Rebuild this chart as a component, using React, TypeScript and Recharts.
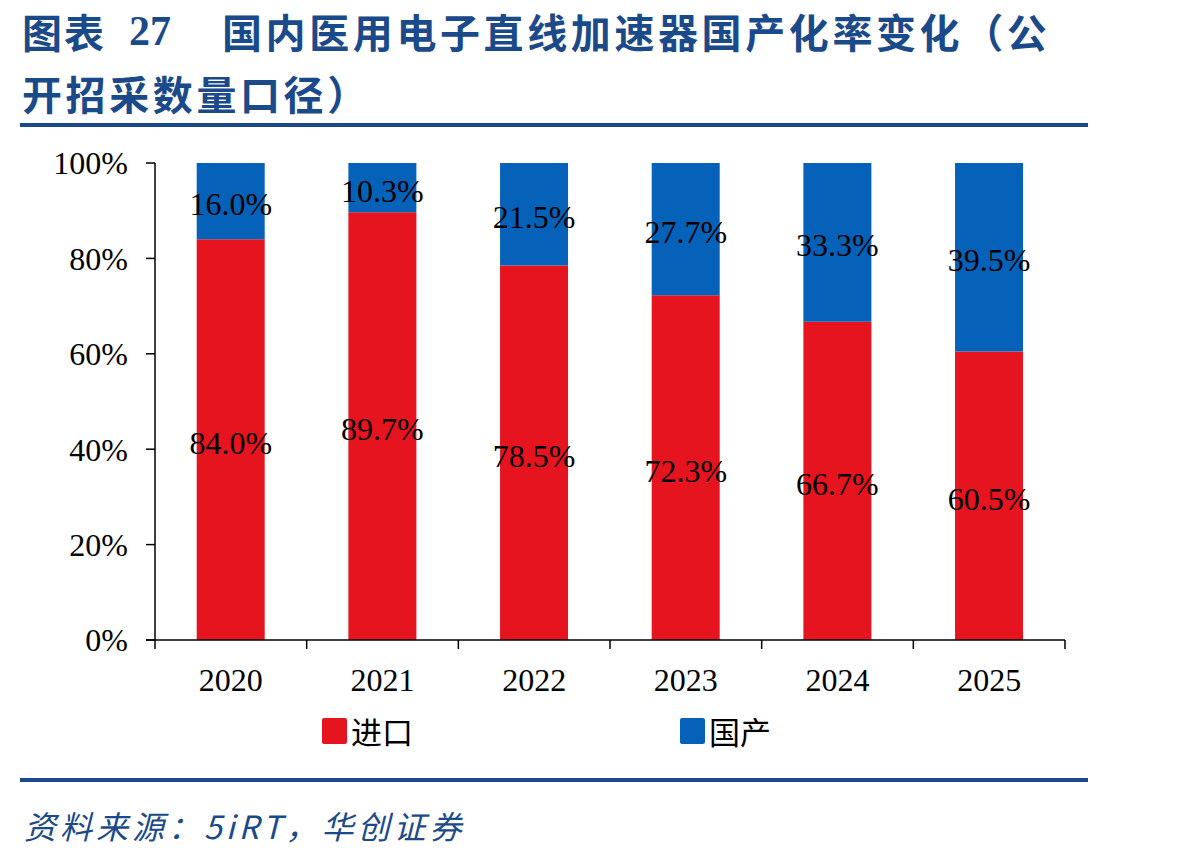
import React from "react";
import { BarChart, Bar, XAxis, YAxis, LabelList } from "recharts";

const years = ["2020", "2021", "2022", "2023", "2024", "2025"];
const importShare = [84.0, 89.7, 78.5, 72.3, 66.7, 60.5];
const domesticShare = [16.0, 10.3, 21.5, 27.7, 33.3, 39.5];
const yTicks = [0, 20, 40, 60, 80, 100];

const RED = "#E5141E";
const BLUE = "#0562B8";
const NAVY = "#1B4A8A";
const SERIF = "'Liberation Serif', 'Times New Roman', serif";
const CJK = "'Noto Sans CJK SC', 'Noto Sans', sans-serif";

const data = years.map((y, i) => ({ year: y, imp: importShare[i], dom: domesticShare[i] }));

const CHART_W = 1198;
const CHART_H = 710;
const M_TOP = 163;
const M_RIGHT = 133;
const Y_W = 155;
const X_H = 70;
const PLOT_W = CHART_W - M_RIGHT - Y_W;

const XTick = (props: any) => {
  const { x, y, payload, index } = props;
  const band = PLOT_W / years.length;
  const left = x - band / 2;
  const right = x + band / 2;
  return (
    <g>
      <line x1={left} x2={left} y1={y} y2={y + 9} stroke="#000" strokeWidth={1.5} />
      {index === 0 && <line x1={left - 9} x2={left} y1={y} y2={y} stroke="#000" strokeWidth={1.5} />}
      {index === years.length - 1 && (
        <line x1={right} x2={right} y1={y} y2={y + 9} stroke="#000" strokeWidth={1.5} />
      )}
      <text x={x} y={y + 51} textAnchor="middle" fontFamily={SERIF} fontSize={32} fill="#000">
        {payload.value}
      </text>
    </g>
  );
};

const fmt = (v: any) => `${Number(v).toFixed(1)}%`;

const SegLabel = (props: any) => {
  const { x, y, width, height, value } = props;
  return (
    <text x={x + width / 2} y={y + height / 2 + 3} textAnchor="middle" dominantBaseline="central" fontFamily={SERIF} fontSize={32} fill="#000">
      {fmt(value)}
    </text>
  );
};

export default function App() {
  return (
    <div style={{ position: "absolute", left: 0, top: 0, width: 1198, height: 856, background: "#fff", overflow: "hidden" }}>
      <div style={{ position: "absolute", left: 22, top: 6, fontFamily: CJK, fontWeight: 700, fontSize: 40, color: NAVY, whiteSpace: "nowrap", lineHeight: "50px", letterSpacing: 2 }}>
        图表
      </div>
      <div style={{ position: "absolute", left: 129, top: 6, fontFamily: SERIF, fontWeight: 700, fontSize: 42, color: NAVY, whiteSpace: "nowrap", lineHeight: "50px" }}>
        27
      </div>
      <div style={{ position: "absolute", left: 222, top: 6, fontFamily: CJK, fontWeight: 700, fontSize: 40, color: NAVY, whiteSpace: "nowrap", lineHeight: "50px", letterSpacing: 3.6 }}>
        国内医用电子直线加速器国产化率变化（公
      </div>
      <div style={{ position: "absolute", left: 22, top: 68, fontFamily: CJK, fontWeight: 700, fontSize: 40, color: NAVY, whiteSpace: "nowrap", lineHeight: "50px", letterSpacing: 3.6 }}>
        开招采数量口径）
      </div>
      <div style={{ position: "absolute", left: 20, top: 123, width: 1068, height: 4, background: NAVY }} />

      <div style={{ position: "absolute", left: 0, top: 0 }}>
        <BarChart width={CHART_W} height={CHART_H} data={data} margin={{ top: M_TOP, right: M_RIGHT, left: 0, bottom: 0 }} barCategoryGap="27.5%">
          <XAxis
            dataKey="year"
            height={X_H}
            axisLine={{ stroke: "#000", strokeWidth: 1.5 }}
            tickLine={false}
            tickSize={0}
            tickMargin={0}
            tick={<XTick />}
            interval={0}
          />
          <YAxis
            width={Y_W}
            domain={[0, 100]}
            ticks={yTicks}
            tickFormatter={(v: number) => `${v}%`}
            axisLine={{ stroke: "#000", strokeWidth: 1.5 }}
            tickLine={{ stroke: "#000", strokeWidth: 1.5 }}
            tickSize={9}
            tickMargin={18}
            tick={{ fontFamily: SERIF, fontSize: 32, fill: "#000" }}
            interval={0}
          />
          <Bar dataKey="imp" stackId="a" fill={RED} isAnimationActive={false}>
            <LabelList dataKey="imp" content={<SegLabel />} />
          </Bar>
          <Bar dataKey="dom" stackId="a" fill={BLUE} isAnimationActive={false}>
            <LabelList dataKey="dom" content={<SegLabel />} />
          </Bar>
        </BarChart>
      </div>

      <div style={{ position: "absolute", left: 322, top: 718, width: 25, height: 26, background: RED, borderRadius: 2 }} />
      <div style={{ position: "absolute", left: 351, top: 712, fontFamily: CJK, fontSize: 31, lineHeight: "38px", color: "#000" }}>进口</div>
      <div style={{ position: "absolute", left: 680, top: 718, width: 25, height: 26, background: BLUE, borderRadius: 2 }} />
      <div style={{ position: "absolute", left: 709, top: 712, fontFamily: CJK, fontSize: 31, lineHeight: "38px", color: "#000" }}>国产</div>

      <div style={{ position: "absolute", left: 20, top: 778, width: 1068, height: 4, background: NAVY }} />
      <div style={{ position: "absolute", left: 24, top: 804, fontFamily: CJK, fontStyle: "italic", fontSize: 32, lineHeight: "42px", color: NAVY, whiteSpace: "nowrap", letterSpacing: 4 }}>
        资料来源：5iRT，华创证券
      </div>
    </div>
  );
}
